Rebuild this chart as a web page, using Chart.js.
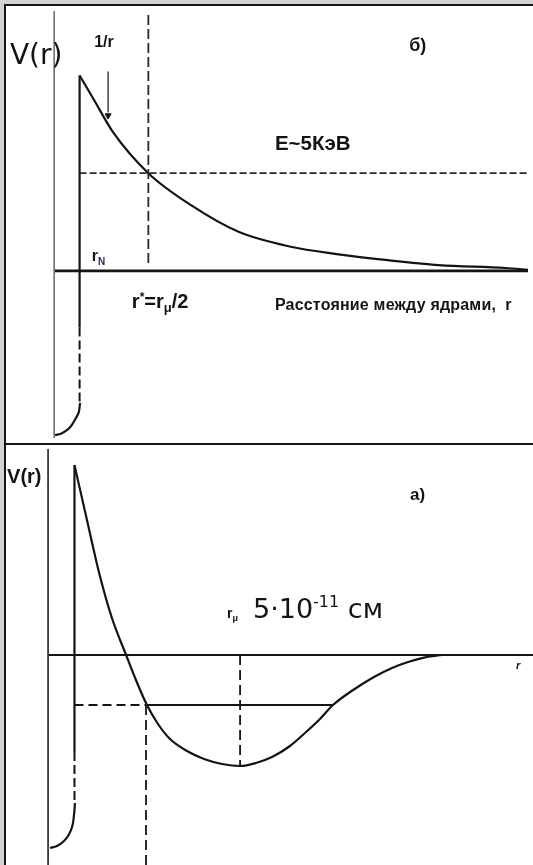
<!DOCTYPE html>
<html lang="ru">
<head>
<meta charset="utf-8">
<title>V(r)</title>
<script src="https://cdn.jsdelivr.net/npm/chart.js@4/dist/chart.umd.min.js"></script>
<style>
  html, body { margin: 0; padding: 0; }
  body { width: 533px; height: 865px; background: #d2d2d2; overflow: hidden; position: relative; }
  #frame {
    position: absolute; left: 4px; top: 4px; right: 0; bottom: 0;
    background: #fff; border-left: 2px solid #161616; border-top: 2px solid #161616;
  }
  .panel { position: absolute; left: 0; width: 527px; }
  #panelB { top: 0; height: 437px; }
  #divider { position: absolute; left: 0; right: 0; top: 437px; height: 2px; background: #161616; }
  #panelA { top: 439px; height: 420px; }
</style>
</head>
<body>
<div id="frame">
  <div class="panel" id="panelB"><canvas id="chartB"></canvas></div>
  <div id="divider"></div>
  <div class="panel" id="panelA"><canvas id="chartA"></canvas></div>
</div>
<script>
  // --------------------------------------------------------------
  //  Curves (r in arbitrary units, V in arbitrary units)
  // --------------------------------------------------------------

  // б) Coulomb barrier 1/r outside the nucleus
  const barrierR = [1.08, 1.67, 2.5, 4.0, 5.83, 7.83, 10.0, 12.08, 14.17, 16.33, 19.17, 20.2];
  const barrierV = [10.0, 8.8, 7.1, 5.0, 3.35, 2.0, 1.25, 0.85, 0.55, 0.3, 0.15, 0.05];

  // б) nuclear well bottom, r < r_N
  const wellBR = [1.1, 1.04, 0.89, 0.71, 0.54, 0.29, 0.04];
  const wellBV = [-6.75, -7.25, -7.6, -7.95, -8.15, -8.33, -8.4];

  // а) molecular potential with a minimum
  const moleculeR = [1.02, 1.54, 2.08, 2.58, 3.17, 3.58, 4.04, 4.5, 5.0, 5.71, 6.42, 7.17, 7.92,
                     8.58, 9.25, 10.0, 10.67, 11.25, 11.79, 12.63, 13.5, 14.25, 14.92, 15.63, 16.33];
  const moleculeV = [9.5, 6.75, 3.95, 1.85, 0.0, -1.25, -2.5, -3.45, -4.2, -4.8, -5.2, -5.45, -5.55,
                     -5.4, -5.1, -4.55, -3.85, -3.2, -2.5, -1.75, -1.1, -0.65, -0.35, -0.12, 0.0];

  // а) nuclear well bottom
  const wellAR = [1.04, 1.0, 0.92, 0.75, 0.54, 0.29, 0.0];
  const wellAV = [-7.4, -8.0, -8.6, -9.05, -9.35, -9.55, -9.65];

  // Characteristic values
  const rNucleusB = 1.08;     // r_N, panel б
  const rNucleusA = 1.02;     // r_N, panel а
  const energyE = 5.0;        // E ~ 5 КэВ
  const rStar = 4.0;          // r* = r_mu / 2
  const wallSolidEndB = -2.9;
  const wallSolidEndA = -4.85;
  const levelA = -2.5;        // level line in panel а
  const levelRightA = 11.79;
  const rMin = 7.92;          // position of the minimum
  const vMin = -5.55;

  // Visible window of each panel
  const rRange = [-1.8333, 20.125];
  const vRangeB = [-8.55, 13.3];
  const vRangeA = [-10.5, 10.5];

  const INK = "#141414";

  // --------------------------------------------------------------
  //  Helpers
  // --------------------------------------------------------------

  function line(r, v, opts) {
    return Object.assign({
      data: r.map((x, i) => ({ x, y: v[i] })),
      showLine: true,
      borderColor: INK,
      borderWidth: 2.2,
      pointRadius: 0,
      tension: 0,
      fill: false
    }, opts || {});
  }

  // Draws multi-run text (sub/superscripts) anchored at data coordinates
  function labelPlugin(items) {
    return {
      id: "labels",
      afterDatasetsDraw(chart) {
        const { ctx, scales } = chart;
        ctx.save();
        ctx.textBaseline = "alphabetic";
        ctx.textAlign = "left";
        for (const lbl of items) {
          let x = scales.x.getPixelForValue(lbl.r);
          const y = scales.y.getPixelForValue(lbl.v);
          for (const run of lbl.runs) {
            ctx.font = run.font;
            ctx.fillStyle = run.color || INK;
            ctx.letterSpacing = run.spacing || "0px";
            x += run.dx || 0;
            ctx.fillText(run.text, x, y + (run.dy || 0));
            x += ctx.measureText(run.text).width;
          }
        }
        ctx.restore();
      }
    };
  }

  function makeChart(id, vRange, datasets, labels) {
    return new Chart(document.getElementById(id), {
      type: "scatter",
      data: { datasets },
      options: {
        responsive: true,
        maintainAspectRatio: false,
        animation: false,
        layout: { padding: 0 },
        scales: {
          x: { type: "linear", min: rRange[0], max: rRange[1], display: false },
          y: { type: "linear", min: vRange[0], max: vRange[1], display: false }
        },
        plugins: { legend: { display: false }, tooltip: { enabled: false } }
      },
      plugins: [labelPlugin(labels)]
    });
  }

  const BOLD = "'Liberation Sans', Arial, sans-serif";
  const VERD = "'DejaVu Sans', Verdana, sans-serif";

  // --------------------------------------------------------------
  //  Panel б
  // --------------------------------------------------------------

  makeChart("chartB", vRangeB, [
    line([0, 0], [vRangeB[1], vRangeB[0]], { borderColor: "#707070", borderWidth: 1.6 }),
    line([0, rRange[1]], [0, 0], { borderWidth: 2.8 }),
    line([rNucleusB, rRange[1]], [energyE, energyE], { borderDash: [7, 3], borderWidth: 1.8, borderColor: "#2a2a2a" }),
    line([rStar, rStar], [13.1, 0.4], { borderDash: [10, 4], borderWidth: 1.8, borderColor: "#2a2a2a" }),
    line([rNucleusB, rNucleusB], [10.0, wallSolidEndB], { borderWidth: 2.2 }),
    line([rNucleusB, rNucleusB], [wallSolidEndB, -6.75], { borderDash: [9, 4], borderWidth: 2 }),
    line(wellBR, wellBV, { tension: 0.4 }),
    line(barrierR, barrierV, { cubicInterpolationMode: "monotone" }),
    line([2.29, 2.29], [10.2, 8.1], { borderWidth: 1.2 }),
    { data: [{ x: 2.29, y: 7.95 }], pointStyle: "triangle", rotation: 180, pointRadius: 3.5,
      backgroundColor: INK, borderColor: INK, borderWidth: 1 }
  ], [
    { r: -1.88, v: 10.6, runs: [{ text: "V(r)", font: "28px " + VERD }] },
    { r: 1.7, v: 11.45, runs: [{ text: "1/r", font: "bold 16px " + BOLD }] },
    { r: 15.08, v: 11.25, runs: [{ text: "б)", font: "bold 18px " + BOLD }] },
    { r: 9.375, v: 6.2, runs: [{ text: "E~5КэВ", font: "bold 20.5px " + BOLD }] },
    { r: 1.6, v: 0.5, runs: [
      { text: "r", font: "bold 16px " + BOLD },
      { text: "N", font: "bold 10px " + BOLD, dy: 4, color: "#1d2a58" }
    ] },
    { r: 3.3, v: -1.9, runs: [
      { text: "r", font: "bold 20px " + BOLD },
      { text: "*", font: "bold 12px " + BOLD, dy: -7 },
      { text: "=r", font: "bold 20px " + BOLD },
      { text: "μ", font: "bold 13px " + BOLD, dy: 4 },
      { text: "/2", font: "bold 20px " + BOLD }
    ] },
    { r: 9.375, v: -2.0, runs: [{ text: "Расстояние между ядрами,  r", font: "bold 16px " + BOLD, spacing: "0.2px" }] }
  ]);

  // --------------------------------------------------------------
  //  Panel а
  // --------------------------------------------------------------

  makeChart("chartA", vRangeA, [
    line([-0.08, -0.08], [10.3, vRangeA[0]], { borderColor: "#3a3a3a", borderWidth: 1.8 }),
    line([-0.08, rRange[1]], [0, 0], { borderWidth: 2 }),
    line([rNucleusA, rStar], [levelA, levelA], { borderDash: [9, 5], borderWidth: 2 }),
    line([rStar, levelRightA], [levelA, levelA], { borderWidth: 2 }),
    line([rMin, rMin], [0, vMin], { borderDash: [10, 5], borderWidth: 1.8 }),
    line([rStar, rStar], [levelA, vRangeA[0]], { borderDash: [10, 5], borderWidth: 1.8 }),
    line([rNucleusA, rNucleusA], [9.5, wallSolidEndA], { borderWidth: 2.2 }),
    line([rNucleusA, rNucleusA], [wallSolidEndA, -7.4], { borderDash: [9, 4], borderWidth: 2 }),
    line(wellAR, wellAV, { tension: 0.4 }),
    line(moleculeR, moleculeV, { cubicInterpolationMode: "monotone" })
  ], [
    { r: -1.79, v: 8.6, runs: [{ text: "V(r)", font: "bold 20px " + BOLD }] },
    { r: 15.0, v: 7.75, runs: [{ text: "а)", font: "bold 17px " + BOLD }] },
    { r: 7.375, v: 1.85, runs: [
      { text: "r", font: "bold 14px " + BOLD },
      { text: "μ", font: "bold 9px " + BOLD, dy: 3 },
      { text: "5·10", font: "27px " + VERD, dx: 15 },
      { text: "-11", font: "16px " + VERD, dy: -11 },
      { text: " см", font: "27px " + VERD }
    ] },
    { r: 19.42, v: -0.7, runs: [{ text: "r", font: "italic bold 11px " + BOLD }] }
  ]);
</script>
</body>
</html>
